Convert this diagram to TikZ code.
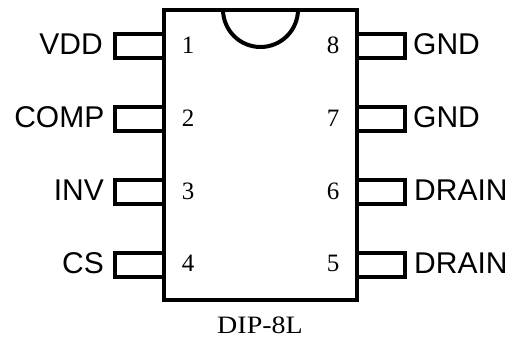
\documentclass[tikz,border=0pt]{standalone}
\usepackage{fontspec}
\setmainfont{Liberation Serif}
\newfontfamily\pinfont{Liberation Sans}
\tikzset{
  x=1bp,y=-1bp,
  outline/.style={draw=black,line width=4bp,line join=miter},
  pinname/.style={font=\pinfont\fontsize{30bp}{32bp}\selectfont,inner sep=0pt,text=black},
  pinnum/.style={font=\fontsize{25bp}{27bp}\selectfont,inner sep=0pt,text=black},
}
\begin{document}
\begin{tikzpicture}
\useasboundingbox (0,0) rectangle (511,338);
\coordinate (tl) at (163.5,9.5);
\coordinate (tr) at (357,9.5);
\coordinate (br) at (357,300);
\coordinate (bl) at (163.5,300);
\coordinate (na) at (223,9.5);
\coordinate (nb) at (298,9.5);
\coordinate (nc) at (260.5,47);
\draw[outline] (tl) -- (tr) -- (br) -- (bl) -- cycle;
\draw[outline] (na) .. controls (223,30.2) and (239.8,47) .. (nc) .. controls (281.2,47) and (298,30.2) .. (nb);
% left pins
\foreach \n/\y in {1/33.5,2/107,3/180,4/253}{
  \draw[outline] (163.5,\y) -- (115,\y) -- (115,\y+24) -- (163.5,\y+24);
}
% right pins
\foreach \n/\y in {8/33.5,7/107,6/180,5/253}{
  \draw[outline] (357,\y) -- (405,\y) -- (405,\y+24) -- (357,\y+24);
}
\node[pinname,anchor=base east] (vdd) at (103,54.7) {VDD};
\node[pinname,anchor=base east] (comp) at (104.5,127.7) {COMP};
\node[pinname,anchor=base east] (inv) at (104,200.7) {INV};
\node[pinname,anchor=base east] (cs) at (104,273.7) {CS};
\node[pinname,anchor=base west] (gnd8) at (413,54.7) {GND};
\node[pinname,anchor=base west] (gnd7) at (413,127.7) {GND};
\node[pinname,anchor=base west] (dr6) at (414,200.7) {DRAIN};
\node[pinname,anchor=base west] (dr5) at (414,273.7) {DRAIN};
\node[pinnum,anchor=base] (n1) at (188,53) {1};
\node[pinnum,anchor=base] (n2) at (188,126) {2};
\node[pinnum,anchor=base] (n3) at (188,199) {3};
\node[pinnum,anchor=base] (n4) at (188,271) {4};
\node[pinnum,anchor=base] (n8) at (333,53) {8};
\node[pinnum,anchor=base] (n7) at (333,126) {7};
\node[pinnum,anchor=base] (n6) at (333,199) {6};
\node[pinnum,anchor=base] (n5) at (333,271) {5};
\node[pinnum,anchor=base,xscale=1.12] (pkg) at (260,333) {DIP-8L};
\end{tikzpicture}
\end{document}
